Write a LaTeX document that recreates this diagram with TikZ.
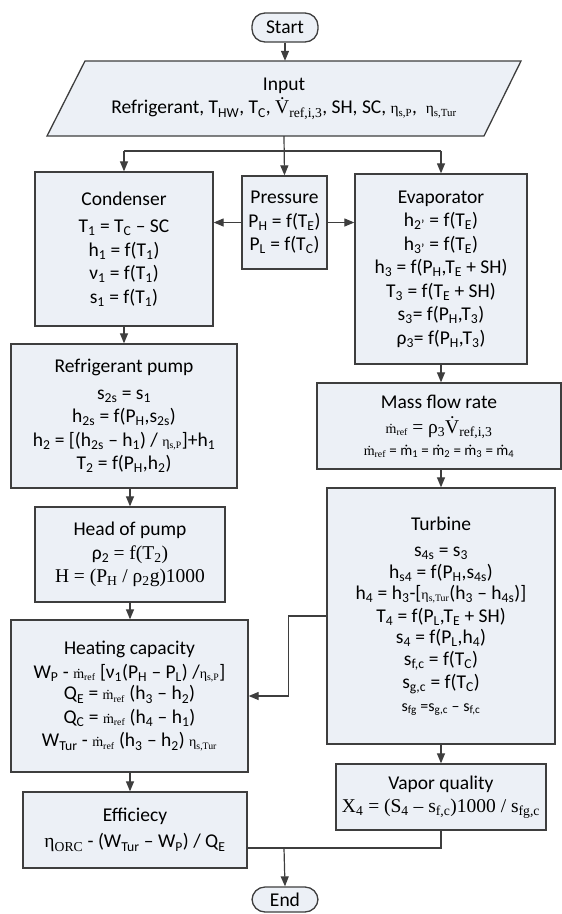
\documentclass[tikz,border=0pt]{standalone}
\usepackage{fontspec}
\setmainfont{Carlito}
\newfontfamily\serif{Liberation Serif}
\usetikzlibrary{arrows.meta}
\definecolor{boxfill}{RGB}{236,240,246}
\definecolor{edge}{RGB}{62,62,62}
\newcommand{\sbs}[1]{\textsubscript{#1}}
\newcommand{\ser}[1]{{\serif #1}}
\newcommand{\smser}[1]{{\serif\fontsize{14}{14}\selectfont #1}}
\newcommand{\mdser}[1]{{\serif\fontsize{15.5}{15.5}\selectfont #1}}
\begin{document}
\begin{tikzpicture}[x=1pt,y=-1pt,
  shp/.style={draw=edge, fill=boxfill, line width=1.3pt},
  box/.style={shp, inner sep=0pt, align=center, font=\fontsize{19.5}{23.5}\selectfont},
  term/.style={box, rounded corners=13pt},
  arr/.style={draw=edge, line width=1.2pt, -{Triangle[width=8pt,length=10pt]}},
  ln/.style={draw=edge, line width=1.2pt}]
\useasboundingbox (0,0) rectangle (562,914);

% Start / End
\node[term, minimum width=66pt, minimum height=29pt] (start) at (285,27.5) {Start};
\node[term, minimum width=66pt, minimum height=25pt] (end) at (285,899.5) {End};

% Input parallelogram
\draw[shp] (85,61) -- (521,61) -- (484,136) -- (47,136) -- cycle;
\node[inner sep=0pt, minimum width=400pt, minimum height=75pt, align=center,
  font=\fontsize{19.5}{23.5}\selectfont] (input) at (284,98.5)
  {Input\\[0pt]Refrigerant, T\sbs{HW}, T\sbs{C}, \ser{\.{V}\sbs{ref,i,3}}, SH, SC, \mdser{η\sbs{s,P}},\ \ \mdser{η\sbs{s,Tur}}};

% Condenser
\node[box, minimum width=178pt, minimum height=154pt] (cond) at (124,249)
  {Condenser\\[4pt]
   T\sbs{1} = T\sbs{C} – SC\\
   h\sbs{1} = f(T\sbs{1})\\
   ν\sbs{1} = f(T\sbs{1})\\
   s\sbs{1} = f(T\sbs{1})};

% Pressure
\node[box, minimum width=85pt, minimum height=93pt] (pres) at (284.5,222.5)
  {Pressure\\
   P\sbs{H} = f(T\sbs{E})\\
   P\sbs{L} = f(T\sbs{C})};

% Evaporator
\node[box, minimum width=172pt, minimum height=190pt] (evap) at (441,269)
  {Evaporator\\
   h\sbs{2'} = f(T\sbs{E})\\
   h\sbs{3'} = f(T\sbs{E})\\
   h\sbs{3} = f(P\sbs{H},T\sbs{E} + SH)\\
   T\sbs{3} = f(T\sbs{E} + SH)\\
   s\sbs{3}= f(P\sbs{H},T\sbs{3})\\
   ρ\sbs{3}= f(P\sbs{H},T\sbs{3})};

% Refrigerant pump
\node[box, minimum width=226pt, minimum height=144pt] (pump) at (124,416)
  {Refrigerant pump\\[3pt]
   s\sbs{2s} = s\sbs{1}\\
   h\sbs{2s} = f(P\sbs{H},s\sbs{2s})\\
   h\sbs{2} = [(h\sbs{2s} – h\sbs{1}) / \smser{η\sbs{s,P}}]+h\sbs{1}\\
   T\sbs{2} = f(P\sbs{H},h\sbs{2})};

% Head of pump
\node[box, minimum width=190pt, minimum height=95pt] (head) at (130,554.5)
  {Head of pump\\
   ρ\sbs{2} \ser{= f(T\sbs{2})}\\
   \ser{H = (P\sbs{H} / ρ\sbs{2}g)1000}};

% Mass flow rate
\node[box, minimum width=244pt, minimum height=86pt] (mass) at (439,426)
  {Mass flow rate\\[2pt]
   \smser{ṁ\sbs{ref}} \ser{= ρ\sbs{3}\.{V}\sbs{ref,i,3}}\\[-2pt]
   {\fontsize{15}{18}\selectfont \smser{ṁ\sbs{ref}} = ṁ\sbs{1} = ṁ\sbs{2} = ṁ\sbs{3} = ṁ\sbs{4}}};

% Turbine
\node[box, minimum width=228pt, minimum height=256pt] (turb) at (441,616)
  {Turbine\\[3pt]
   s\sbs{4s} = s\sbs{3}\\[-2pt]
   h\sbs{s4} = f(P\sbs{H},s\sbs{4s})\\[-2pt]
   h\sbs{4} = h\sbs{3}-[\smser{η\sbs{s,Tur}}(h\sbs{3} – h\sbs{4s})]\\[-1pt]
   T\sbs{4} = f(P\sbs{L},T\sbs{E} + SH)\\[-2pt]
   s\sbs{4} = f(P\sbs{L},h\sbs{4})\\[-2pt]
   s\sbs{f,c} = f(T\sbs{C})\\[0pt]
   s\sbs{g,c} = f(T\sbs{C})\\[-1pt]
   {\fontsize{16}{18}\selectfont s\sbs{fg} =s\sbs{g,c} – s\sbs{f,c}}};

% Heating capacity
\node[box, minimum width=237pt, minimum height=152pt] (heat) at (129.5,696)
  {Heating capacity\\
   W\sbs{P} - \smser{ṁ\sbs{ref}} [ν\sbs{1}(P\sbs{H} – P\sbs{L}) /\smser{η\sbs{s,P}}]\\[-2pt]
   Q\sbs{E} = \smser{ṁ\sbs{ref}} (h\sbs{3} – h\sbs{2})\\
   Q\sbs{C} = \smser{ṁ\sbs{ref}} (h\sbs{4} – h\sbs{1})\\
   W\sbs{Tur} - \smser{ṁ\sbs{ref}} (h\sbs{3} – h\sbs{2}) \smser{η\sbs{s,Tur}}};

% Efficiency
\node[box, minimum width=224pt, minimum height=76pt] (eff) at (135,830)
  {Efficiecy\\[3pt]
   \ser{η\sbs{ORC}} - (W\sbs{Tur} – W\sbs{P}) / Q\sbs{E}};

% Vapor quality
\node[box, minimum width=210pt, minimum height=66pt] (vap) at (441,797)
  {Vapor quality\\[0pt]
   \ser{X\sbs{4} = (S\sbs{4} – s\sbs{f,c})1000 / s\sbs{fg,c}}};

% connectors
\coordinate (br) at (284,151);
\coordinate (j) at (284,848);
\draw[arr] (start) -- (input.north -| start);
\draw[arr] (input.south) -- (pres.north);
\draw[ln] (br) -- (br -| cond.north);
\draw[arr] (br -| cond.north) -- (cond.north);
\draw[ln] (br) -- (br -| evap.north);
\draw[arr] (br -| evap.north) -- (evap.north);
\draw[arr] (pres.west) -- (pres.west -| cond.east);
\draw[arr] (pres.east) -- (pres.east -| evap.west);
\draw[arr] (cond.south) -- (cond.south |- pump.north);
\draw[arr] (head.north |- pump.south) -- (head.north);
\draw[arr] (head.south) -- (head.south |- heat.north);
\draw[arr] (head.south |- heat.south) -- (head.south |- eff.north);
\draw[arr] (evap.south) -- (evap.south |- mass.north);
\draw[arr] (evap.south |- mass.south) -- (turb.north);
\draw[arr] (turb.south) -- (vap.north);
\draw[arr] (turb.west) -- ++(-38,0) |- (heat.east);
\draw[ln] (vap.south) |- (j);
\draw[ln] (eff.east |- j) -- (j);
\draw[arr] (j) -- (end.north);
\end{tikzpicture}
\end{document}
